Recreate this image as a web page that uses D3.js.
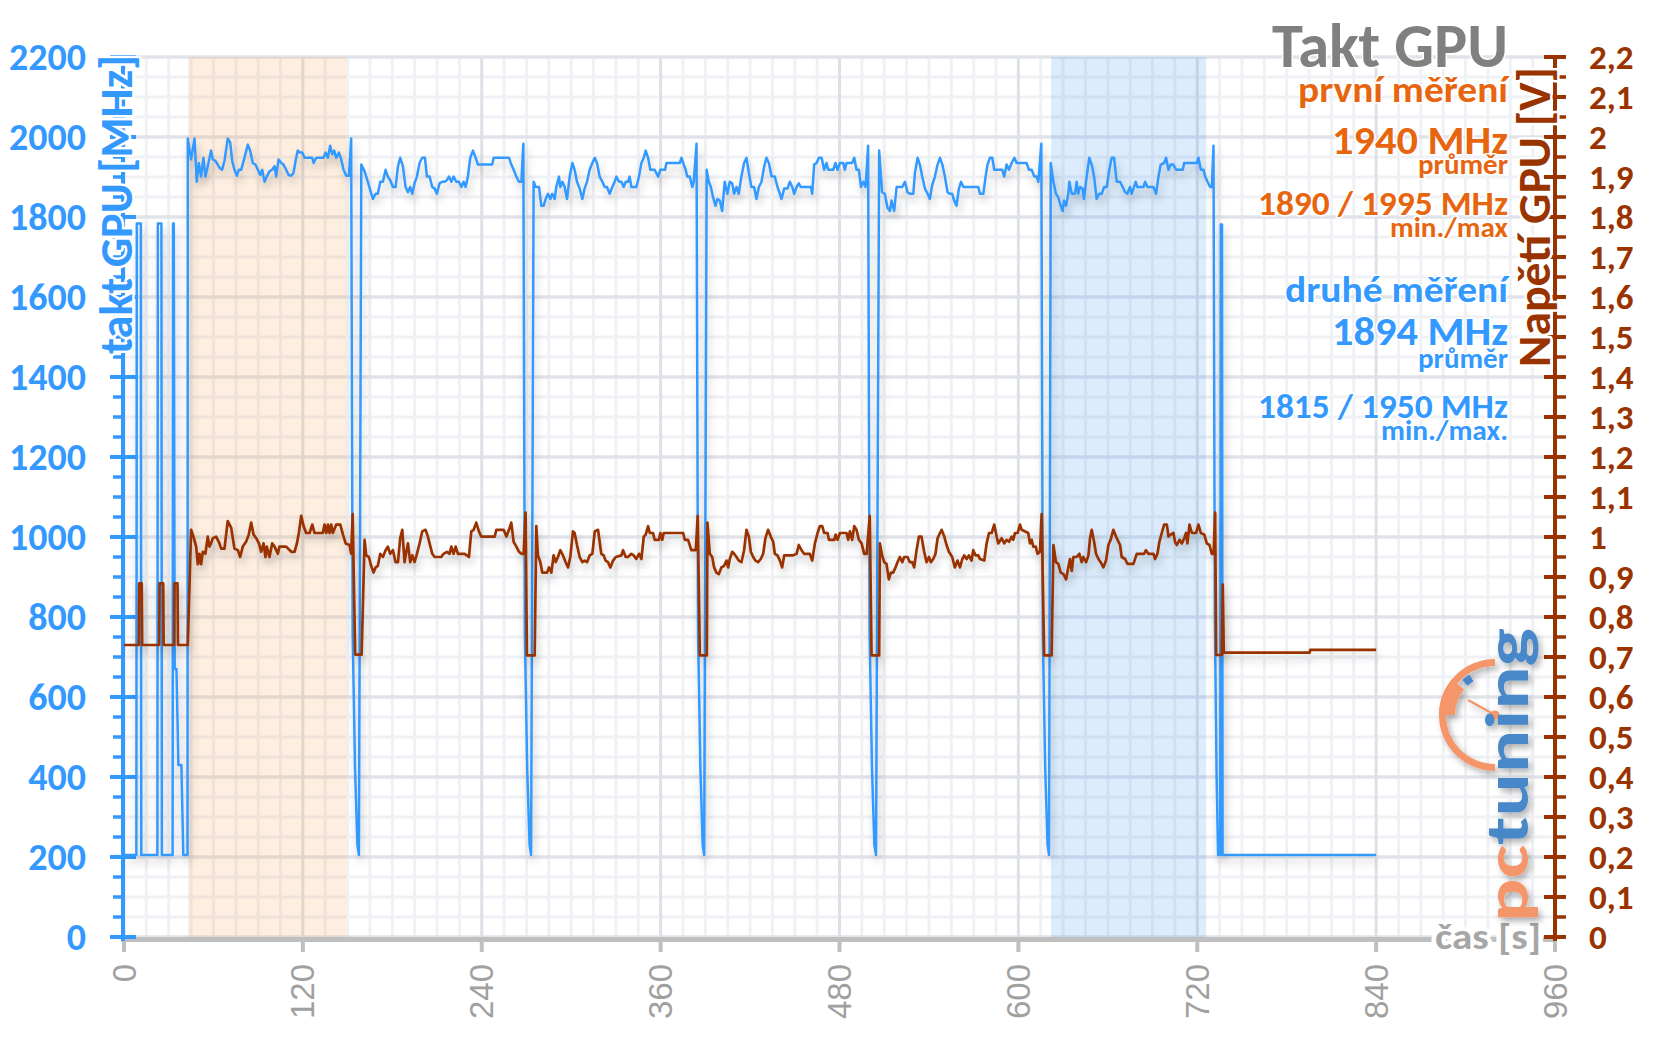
<!DOCTYPE html>
<html><head><meta charset="utf-8">
<script src="https://cdn.jsdelivr.net/npm/d3@7"></script>
<style>html,body{margin:0;padding:0;background:#fff}svg{display:block}</style>
</head><body>
<svg id="chart" width="1656" height="1044"></svg>
<script>
// ---------- DATA ----------
const xTickValues = [0,120,240,360,480,600,720,840,960];
const leftTickValues = [0,200,400,600,800,1000,1200,1400,1600,1800,2000,2200];
const rightTickValues = [0,0.1,0.2,0.3,0.4,0.5,0.6,0.7,0.8,0.9,1,1.1,1.2,1.3,1.4,1.5,1.6,1.7,1.8,1.9,2,2.1,2.2];
const rightTickLabels = ["0","0,1","0,2","0,3","0,4","0,5","0,6","0,7","0,8","0,9","1","1,1","1,2","1,3","1,4","1,5","1,6","1,7","1,8","1,9","2","2,1","2,2"];
const firstRunBand = [43,149];
const secondRunBand = [622,726];

// GPU clock [MHz]: [time s, value]
const clockIdle = [[0,205],[8.3,205],[8.6,1784],[11.3,1784],[11.6,205],[22.4,205],[22.7,1784],[25.1,1784],[25.4,205],[32.6,205],[32.9,1784],[33.4,1784],[34.0,670],[35.2,670],[36.5,430],[38.5,430],[39.8,205],[42.6,205]];
const clockRun1 = [[42.8,1996],[45.0,1944],[47.3,1996],[48.8,1888],[50.2,1935],[51.7,1901],[53.3,1948],[54.6,1901],[56.2,1927],[58.4,1966],[59.6,1944],[61.4,1940],[62.9,1931],[64.0,1923],[65.8,1918],[67.4,1940],[69.6,1996],[71.2,1987],[72.6,1940],[74.1,1918],[75.7,1903],[77.0,1918],[78.6,1918],[80.8,1948],[83.1,1981],[84.6,1966],[86.4,1935],[88.2,1931],[89.8,1918],[91.4,1905],[92.7,1918],[94.3,1888],[95.8,1901],[97.6,1914],[99.4,1918],[101.0,1927],[102.1,1901],[103.7,1944],[105.5,1935],[107.0,1931],[108.8,1918],[110.4,1905],[112.2,1903],[113.7,1910],[115.5,1948],[116.6,1966],[118.0,1961],[119.6,1961],[121.1,1948],[124.5,1948],[126.3,1948],[127.2,1935],[129.0,1948],[133.9,1948],[135.2,1961],[136.8,1948],[138.3,1978],[139.7,1957],[141.0,1966],[142.4,1948],[144.2,1961],[145.7,1944],[147.3,1918],[149.1,1903],[150.9,1903],[152.4,1996],[153.4,760],[155.0,420],[156.6,230],[157.6,205]];
const clockRun2 = [[159.2,1931],[161.4,1914],[163.6,1888],[165.2,1867],[167.0,1845],[168.8,1858],[170.3,1858],[171.9,1888],[173.7,1888],[175.5,1918],[177.0,1901],[178.6,1892],[180.4,1875],[182.2,1875],[183.8,1927],[185.3,1948],[187.1,1927],[188.9,1875],[190.5,1862],[192.0,1875],[193.4,1858],[194.9,1884],[196.5,1901],[198.3,1935],[200.1,1948],[201.9,1948],[203.2,1901],[205.0,1901],[206.8,1875],[208.4,1871],[209.9,1858],[211.7,1884],[213.5,1888],[215.1,1888],[216.6,1892],[218.0,1901],[219.6,1888],[221.1,1901],[222.9,1888],[224.7,1888],[226.3,1875],[227.8,1888],[229.2,1875],[230.7,1901],[232.3,1948],[234.1,1966],[235.9,1948],[237.5,1931],[247.0,1931],[248.0,1948],[258.3,1948],[259.8,1931],[261.4,1918],[263.2,1901],[265.0,1888],[266.6,1888],[267.9,1983],[268.9,760],[270.5,420],[272.1,230],[273.1,205]];
const clockRun3 = [[274.8,1888],[276.2,1875],[278.4,1875],[280.0,1828],[281.5,1828],[282.9,1845],[284.4,1858],[286.0,1845],[287.3,1858],[288.9,1845],[290.0,1875],[291.8,1901],[292.7,1875],[294.1,1888],[295.6,1875],[297.2,1845],[299.0,1901],[300.8,1935],[302.3,1918],[303.9,1888],[305.7,1871],[307.5,1845],[309.0,1871],[310.6,1888],[312.4,1918],[314.2,1935],[315.8,1948],[317.3,1935],[319.1,1901],[320.9,1888],[322.5,1875],[324.0,1875],[325.8,1858],[327.6,1875],[329.2,1888],[330.3,1901],[332.1,1888],[333.7,1888],[335.2,1875],[336.6,1888],[338.1,1888],[339.2,1901],[340.4,1875],[343.7,1875],[345.5,1901],[347.1,1935],[348.7,1948],[350.0,1966],[351.6,1948],[353.1,1918],[356.0,1918],[358.3,1901],[359.8,1918],[363.0,1918],[363.9,1935],[372.8,1935],[374.0,1948],[375.5,1931],[376.8,1918],[377.8,1901],[379.5,1901],[381.3,1875],[382.2,1888],[384.1,1983],[385.1,760],[386.7,420],[388.2,230],[389.2,205]];
const clockRun4 = [[390.9,1918],[392.3,1888],[393.7,1875],[395.2,1849],[396.8,1828],[398.1,1845],[399.7,1841],[401.3,1815],[403.0,1888],[404.8,1858],[406.4,1888],[408.0,1884],[409.3,1858],[410.9,1875],[412.4,1858],[414.2,1901],[416.0,1935],[417.6,1948],[419.2,1910],[420.9,1875],[422.7,1875],[424.3,1845],[425.9,1875],[427.7,1888],[429.5,1927],[431.0,1948],[432.6,1935],[434.4,1901],[436.6,1901],[438.4,1875],[440.0,1858],[441.1,1845],[442.9,1871],[445.1,1871],[446.7,1888],[448.3,1875],[449.6,1858],[451.2,1875],[452.7,1884],[454.0,1875],[460.8,1875],[461.7,1858],[463.0,1931],[464.6,1935],[466.2,1948],[468.0,1948],[469.7,1918],[471.3,1935],[472.4,1918],[475.8,1918],[477.3,1935],[478.7,1918],[480.3,1935],[482.5,1935],[483.6,1918],[484.7,1935],[488.5,1935],[489.9,1948],[491.4,1918],[493.0,1918],[494.4,1875],[496.0,1888],[497.5,1875],[499.2,1978],[500.2,760],[501.8,420],[503.4,230],[504.5,205]];
const clockRun5 = [[506.6,1966],[508.6,1862],[510.4,1858],[512.2,1823],[513.8,1815],[514.9,1841],[516.7,1815],[518.3,1875],[522.1,1875],[523.9,1888],[525.6,1862],[527.2,1858],[529.5,1858],[530.6,1910],[532.4,1948],[533.9,1931],[535.5,1901],[537.3,1871],[539.1,1858],[540.6,1845],[542.2,1880],[544.0,1901],[545.8,1931],[547.4,1948],[549.0,1931],[550.7,1901],[552.5,1862],[554.0,1858],[555.6,1858],[556.9,1841],[558.5,1828],[560.1,1871],[561.5,1888],[563.1,1875],[573.1,1875],[574.2,1858],[576.5,1858],[578.0,1901],[579.3,1931],[580.9,1948],[582.5,1948],[583.8,1918],[589.2,1918],[590.5,1901],[592.1,1931],[593.7,1918],[595.5,1935],[597.3,1948],[598.8,1935],[605.5,1935],[607.1,1918],[608.9,1918],[610.7,1901],[612.2,1901],[613.4,1888],[615.4,1983],[616.4,760],[618.0,420],[619.6,230],[620.6,205]];
const clockRun6 = [[621.7,1935],[623.5,1888],[625.2,1858],[626.8,1849],[628.4,1828],[629.7,1815],[630.6,1841],[632.0,1828],[633.5,1858],[634.2,1888],[635.8,1858],[638.0,1858],[639.1,1888],[640.2,1858],[641.4,1875],[643.1,1871],[644.0,1845],[645.8,1901],[647.6,1948],[649.2,1931],[650.8,1901],[652.5,1845],[654.3,1858],[655.9,1858],[657.5,1875],[659.3,1875],[661.0,1918],[662.6,1948],[664.2,1948],[666.0,1888],[668.2,1888],[670.0,1875],[671.6,1862],[673.1,1858],[674.9,1875],[676.0,1858],[677.2,1871],[678.7,1888],[679.8,1875],[683.9,1875],[685.0,1888],[686.6,1875],[690.6,1875],[692.4,1858],[694.0,1901],[695.5,1931],[697.8,1935],[699.1,1948],[700.7,1918],[702.2,1931],[704.0,1931],[705.8,1918],[710.3,1918],[711.2,1935],[719.7,1935],[720.8,1948],[722.4,1918],[724.2,1918],[725.3,1901],[726.9,1888],[728.6,1875],[729.8,1875],[730.9,1978]];
const clockTail = [[731.8,800],[733.0,400],[734.0,205],[735.4,205],[735.8,1781],[736.6,1781],[737.0,205],[840,205]];

// GPU voltage [V]: [time s, value]
const voltIdle = [[0,0.73],[9.9,0.73],[10.2,0.884],[11.9,0.884],[12.2,0.73],[23.6,0.73],[23.9,0.884],[26.3,0.884],[26.6,0.73],[33.6,0.73],[33.9,0.884],[35.9,0.884],[36.2,0.73],[42.8,0.73]];
const voltRun1 = [[45.0,1.018],[46.6,1.001],[48.4,0.976],[49.5,0.932],[50.6,0.958],[51.7,0.932],[52.9,0.963],[54.6,0.958],[56.2,1.001],[57.3,0.976],[58.4,0.984],[59.6,0.997],[61.8,1.001],[63.6,0.988],[65.2,0.971],[67.4,0.971],[69.6,1.040],[71.9,1.023],[74.1,0.971],[76.4,0.967],[77.9,0.950],[79.7,0.976],[81.9,0.988],[83.7,1.006],[85.3,1.036],[86.9,1.006],[88.7,0.997],[90.5,0.984],[92.0,0.963],[93.6,0.984],[94.9,0.950],[95.8,0.976],[97.6,0.950],[99.4,0.984],[101.0,0.976],[103.2,0.958],[104.3,0.976],[108.8,0.976],[112.2,0.963],[114.4,0.963],[116.0,0.984],[117.3,1.010],[118.9,1.053],[120.5,1.027],[122.2,1.010],[124.5,1.010],[126.3,1.031],[127.8,1.010],[133.4,1.010],[134.5,1.031],[135.7,1.010],[136.8,1.031],[137.9,1.010],[139.0,1.031],[140.1,1.010],[142.4,1.031],[145.1,1.031],[146.9,1.006],[148.7,0.984],[151.3,0.980],[152.4,0.958],[153.4,1.057],[155.1,0.706],[159.4,0.706]];
const voltRun2 = [[161.4,0.993],[162.5,0.954],[164.3,0.950],[165.8,0.928],[167.4,0.911],[168.8,0.924],[170.3,0.928],[171.9,0.958],[173.7,0.950],[175.5,0.967],[177.0,0.976],[178.6,0.958],[180.4,0.967],[182.2,0.937],[183.8,0.937],[185.3,0.997],[186.7,1.018],[188.2,0.937],[189.4,0.963],[190.5,0.984],[192.0,0.937],[193.4,0.954],[194.9,0.937],[196.5,0.958],[198.3,0.984],[200.1,1.014],[202.3,1.018],[203.9,1.001],[205.0,0.984],[206.8,0.958],[208.4,0.950],[212.8,0.950],[214.4,0.958],[216.6,0.963],[218.4,0.958],[219.6,0.976],[221.1,0.958],[222.5,0.976],[224.0,0.958],[228.5,0.958],[231.4,0.950],[233.0,1.014],[234.6,1.018],[236.3,1.036],[238.1,1.014],[239.7,1.001],[248.7,1.001],[249.8,1.018],[254.7,1.018],[256.5,1.001],[258.3,1.018],[259.8,1.036],[261.4,0.988],[263.2,0.976],[265.0,0.963],[266.6,0.958],[268.1,0.958],[269.4,1.061],[270.3,0.704],[275.5,0.704]];
const voltRun3 = [[276.6,1.027],[277.7,0.954],[279.3,0.937],[280.6,0.911],[283.8,0.911],[285.1,0.924],[286.7,0.911],[288.2,0.954],[289.6,0.937],[291.1,0.950],[292.7,0.967],[294.5,0.954],[296.3,0.937],[297.9,0.924],[299.4,0.950],[301.2,1.014],[302.3,1.010],[303.9,0.980],[305.7,0.950],[307.5,0.937],[309.0,0.941],[310.6,0.937],[312.4,0.954],[314.2,0.958],[315.8,1.014],[318.0,1.018],[320.2,0.958],[321.8,0.954],[323.1,0.941],[324.7,0.937],[326.3,0.924],[328.1,0.941],[329.9,0.950],[333.7,0.954],[334.8,0.967],[336.6,0.950],[338.1,0.950],[340.4,0.958],[341.9,0.954],[343.7,0.945],[345.5,0.958],[347.1,0.945],[348.7,1.001],[350.0,1.006],[351.6,1.027],[352.7,1.010],[354.9,1.010],[356.0,0.993],[358.9,0.993],[359.8,1.010],[361.1,0.993],[362.1,1.010],[375.1,1.010],[376.2,0.993],[378.4,0.993],[380.6,0.967],[383.6,0.967],[384.9,1.053],[386.3,0.704],[391.0,0.704]];
const voltRun4 = [[391.4,1.036],[393.0,0.958],[394.6,0.950],[395.9,0.924],[397.4,0.911],[399.0,0.907],[400.8,0.924],[402.6,0.928],[404.2,0.941],[405.3,0.924],[406.4,0.945],[408.0,0.963],[409.3,0.958],[410.9,0.950],[412.4,0.941],[414.2,0.937],[416.0,0.967],[417.6,1.018],[419.2,1.001],[420.5,0.963],[422.1,0.950],[423.6,0.941],[425.4,0.937],[427.2,0.945],[428.8,0.958],[430.3,0.997],[432.1,1.018],[433.9,1.001],[435.5,0.988],[436.6,0.958],[438.4,0.954],[440.0,0.941],[441.5,0.924],[442.9,0.954],[448.9,0.954],[451.2,0.958],[452.7,0.980],[454.5,0.967],[456.3,0.958],[460.1,0.958],[461.7,0.941],[463.5,0.984],[465.3,1.010],[466.8,1.027],[468.4,1.027],[469.7,1.010],[472.0,1.010],[472.9,0.993],[476.5,0.993],[477.4,1.006],[478.7,0.993],[480.3,1.010],[484.7,1.010],[485.8,0.993],[487.0,1.014],[488.5,0.993],[489.9,1.027],[491.4,1.018],[493.0,0.993],[494.8,0.984],[496.6,0.958],[498.2,0.958],[500.3,1.053],[501.5,0.704],[506.6,0.704]];
const voltRun5 = [[507.1,0.984],[508.6,0.954],[510.0,0.937],[511.5,0.933],[513.1,0.894],[514.5,0.911],[516.0,0.911],[517.6,0.924],[518.9,0.937],[520.5,0.950],[522.1,0.937],[523.4,0.950],[525.6,0.950],[527.2,0.937],[528.8,0.937],[530.1,0.924],[531.7,0.967],[533.3,1.001],[535.0,1.001],[536.8,0.963],[538.4,0.937],[540.0,0.950],[541.3,0.937],[542.9,0.945],[544.4,0.958],[545.8,0.997],[547.4,1.010],[548.5,1.018],[550.3,1.001],[551.8,0.980],[553.4,0.963],[555.6,0.950],[557.4,0.924],[559.2,0.941],[560.8,0.924],[562.4,0.945],[563.7,0.954],[565.3,0.945],[566.8,0.954],[568.6,0.941],[569.7,0.967],[571.3,0.954],[573.1,0.954],[574.2,0.945],[577.1,0.941],[578.7,0.984],[580.3,1.010],[582.1,1.010],[583.8,1.031],[585.4,1.001],[586.5,0.984],[588.8,0.997],[590.5,0.984],[592.1,0.993],[593.7,0.988],[595.5,1.001],[596.6,0.993],[597.7,1.010],[599.5,1.010],[601.1,1.031],[602.2,1.018],[606.6,1.010],[607.8,0.984],[608.9,0.993],[610.0,0.976],[611.6,0.976],[612.9,0.958],[614.5,0.963],[615.6,1.057],[617.3,0.704],[622.3,0.704]];
const voltRun6 = [[623.5,0.980],[625.2,0.937],[626.8,0.933],[628.4,0.911],[630.2,0.907],[632.0,0.894],[633.5,0.924],[634.6,0.945],[635.8,0.915],[636.9,0.950],[639.1,0.950],[640.9,0.958],[642.5,0.937],[643.6,0.950],[645.4,0.937],[647.0,0.954],[648.1,0.997],[649.2,1.018],[650.8,0.988],[652.1,0.958],[653.7,0.945],[655.2,0.937],[657.0,0.924],[658.8,0.941],[660.4,0.980],[661.9,0.993],[663.7,1.018],[665.5,1.001],[668.2,0.980],[669.3,0.950],[671.6,0.945],[673.1,0.933],[677.2,0.933],[679.4,0.958],[684.3,0.958],[685.6,0.967],[687.2,0.958],[690.6,0.958],[691.7,0.945],[693.3,0.958],[694.6,0.988],[696.2,1.010],[697.8,1.031],[699.6,1.031],[700.7,1.001],[702.2,1.006],[704.0,1.010],[705.1,0.988],[706.3,0.980],[708.1,0.993],[709.7,0.984],[711.2,0.997],[712.5,1.010],[713.4,0.984],[714.8,1.031],[716.4,1.010],[719.2,1.010],[720.8,1.031],[722.4,1.010],[724.7,1.006],[726.4,0.984],[728.2,0.980],[729.8,0.958],[731.0,0.958],[732.0,1.061],[732.7,0.705],[736.5,0.705]];
const voltTail = [[737.1,0.881],[737.8,0.711],[795.4,0.711],[795.8,0.718],[840,0.718]];

const clockSeries = [].concat(clockIdle, clockRun1, clockRun2, clockRun3, clockRun4, clockRun5, clockRun6, clockTail);
const voltSeries = [].concat(voltIdle, voltRun1, voltRun2, voltRun3, voltRun4, voltRun5, voltRun6, voltTail);

// ---------- CHART ----------
const FONT = "Carlito, 'Open Sans', sans-serif";
const BLUE = "#3399ff", BROWN = "#993300", ORANGE = "#e8650f", GREY = "#808080";
const svg = d3.select("#chart");
const x = d3.scaleLinear().domain([0, 960]).range([124, 1555]);
const yL = d3.scaleLinear().domain([0, 2200]).range([937, 57]);
const yR = d3.scaleLinear().domain([0, 2.2]).range([937, 57]);

const defs = svg.append("defs");
const f = defs.append("filter").attr("id", "sh").attr("x", "-5%").attr("y", "-10%").attr("width", "110%").attr("height", "130%");
f.append("feDropShadow").attr("dx", 2).attr("dy", 6).attr("stdDeviation", 4).attr("flood-color", "#000").attr("flood-opacity", 0.22);
const f2 = defs.append("filter").attr("id", "sh2").attr("x", "-20%").attr("y", "-20%").attr("width", "150%").attr("height", "150%");
f2.append("feDropShadow").attr("dx", 3).attr("dy", 4).attr("stdDeviation", 3).attr("flood-color", "#000").attr("flood-opacity", 0.3);

svg.append("rect").attr("width", 1656).attr("height", 1044).attr("fill", "#fff");

// grid
const g = svg.append("g");
const [x0, x1] = x.range();
d3.range(0, 2201, 50).filter(v => v % 200 !== 0).forEach(v => {
  g.append("line").attr("x1", x0).attr("x2", x1).attr("y1", yL(v)).attr("y2", yL(v)).attr("stroke", "#eff1f5").attr("stroke-width", 3);
});
d3.range(0, 961, 15).filter(v => v % 120 !== 0).forEach(v => {
  g.append("line").attr("x1", x(v)).attr("x2", x(v)).attr("y1", yL(2200)).attr("y2", yL(0)).attr("stroke", "#eff1f5").attr("stroke-width", 3);
});
leftTickValues.forEach(v => {
  g.append("line").attr("x1", x0).attr("x2", x1).attr("y1", yL(v)).attr("y2", yL(v)).attr("stroke", "#e0e3e9").attr("stroke-width", 3.5);
});
xTickValues.forEach(v => {
  g.append("line").attr("x1", x(v)).attr("x2", x(v)).attr("y1", yL(2200)).attr("y2", yL(0)).attr("stroke", "#dde1e7").attr("stroke-width", 3);
});

// bands
svg.append("rect").attr("x", x(firstRunBand[0])).attr("width", x(firstRunBand[1]) - x(firstRunBand[0]))
  .attr("y", yL(2200)).attr("height", yL(0) - yL(2200) + 4).attr("fill", "rgb(245,170,100)").attr("fill-opacity", 0.2);
svg.append("rect").attr("x", x(secondRunBand[0])).attr("width", x(secondRunBand[1]) - x(secondRunBand[0]))
  .attr("y", yL(2200)).attr("height", yL(0) - yL(2200) + 4).attr("fill", "rgb(80,160,240)").attr("fill-opacity", 0.2);

// bottom axis
svg.append("line").attr("x1", 121).attr("x2", 1557).attr("y1", 939.5).attr("y2", 939.5).attr("stroke", "#bfbfbf").attr("stroke-width", 5);
xTickValues.forEach(v => {
  svg.append("line").attr("x1", x(v)).attr("x2", x(v)).attr("y1", 940).attr("y2", 952).attr("stroke", "#bfbfbf").attr("stroke-width", 4);
  svg.append("text").attr("transform", `translate(${x(v)},964) rotate(-90)`).attr("text-anchor", "end").attr("dy", "0.35em")
    .attr("font-family", "'Liberation Sans', Arial, sans-serif").attr("font-size", 33).attr("fill", "#a0a0a0").text(v);
});

// left axis
svg.append("line").attr("x1", 123).attr("x2", 123).attr("y1", 55).attr("y2", 941).attr("stroke", BLUE).attr("stroke-width", 4);
d3.range(0, 2201, 50).forEach(v => {
  const major = v % 200 === 0;
  svg.append("line").attr("x1", major ? 110 : 113).attr("x2", major ? 136 : 123).attr("y1", yL(v)).attr("y2", yL(v))
    .attr("stroke", BLUE).attr("stroke-width", major ? 4 : 3.5);
});
leftTickValues.forEach(v => {
  svg.append("text").attr("x", 86).attr("y", yL(v)).attr("dy", "0.34em").attr("text-anchor", "end")
    .attr("font-family", FONT).attr("font-weight", 700).attr("font-size", 38).attr("fill", BLUE).text(v);
});

// right axis
svg.append("line").attr("x1", 1555).attr("x2", 1555).attr("y1", 55).attr("y2", 941).attr("stroke", BROWN).attr("stroke-width", 4);
d3.range(0, 45).forEach(i => {
  const v = i * 0.05, major = i % 2 === 0;
  svg.append("line").attr("x1", major ? 1544 : 1555).attr("x2", 1566).attr("y1", yR(v)).attr("y2", yR(v))
    .attr("stroke", BROWN).attr("stroke-width", major ? 4 : 3.5);
});
rightTickValues.forEach((v, i) => {
  svg.append("text").attr("x", 1589).attr("y", yR(v)).attr("dy", "0.34em")
    .attr("font-family", FONT).attr("font-weight", 700).attr("font-size", 35).attr("fill", BROWN).text(rightTickLabels[i]);
});

// series
const lineClock = d3.line().x(d => x(d[0])).y(d => yL(d[1]));
const lineVolt = d3.line().x(d => x(d[0])).y(d => yR(d[1]));
svg.append("path").datum(clockSeries).attr("d", lineClock).attr("fill", "none").attr("stroke", BLUE)
  .attr("stroke-width", 2.5).attr("stroke-linejoin", "round").attr("filter", "url(#sh)");
svg.append("path").datum(voltSeries).attr("d", lineVolt).attr("fill", "none").attr("stroke", BROWN)
  .attr("stroke-width", 2.7).attr("stroke-linejoin", "round").attr("filter", "url(#sh)");

// axis titles
function halo(sel, w) { return sel.attr("stroke", "#fff").attr("stroke-width", w).attr("paint-order", "stroke").attr("stroke-linejoin", "round"); }
halo(svg.append("text").attr("transform", "translate(132,55) rotate(-90)").attr("text-anchor", "end")
  .attr("font-family", FONT).attr("font-weight", 700).attr("font-size", 46).attr("fill", BLUE)
  .attr("textLength", 299).attr("lengthAdjust", "spacingAndGlyphs").text("takt GPU [MHz]"), 5);
halo(svg.append("text").attr("transform", "translate(1550,67) rotate(-90)").attr("text-anchor", "end")
  .attr("font-family", FONT).attr("font-weight", 700).attr("font-size", 47).attr("fill", BROWN)
  .attr("textLength", 300).attr("lengthAdjust", "spacingAndGlyphs").text("Napětí GPU [V]"), 5);
halo(svg.append("text").attr("x", 1541).attr("y", 949).attr("text-anchor", "end")
  .attr("font-family", FONT).attr("font-weight", 700).attr("font-size", 36).attr("fill", "#a6a6a6")
  .attr("textLength", 106).attr("lengthAdjust", "spacingAndGlyphs").text("čas [s]"), 8);

// info block
const info = [
  ["Takt GPU", GREY, 63, 67, 236],
  ["první měření", ORANGE, 37, 102, 210],
  ["1940 MHz", ORANGE, 41, 154, 176],
  ["průměr", ORANGE, 28, 174, 90],
  ["1890 / 1995 MHz", ORANGE, 34, 215, 250],
  ["min./max", ORANGE, 28, 237, 118],
  ["druhé měření", BLUE, 37, 302, 223],
  ["1894 MHz", BLUE, 41, 345, 176],
  ["průměr", BLUE, 28, 368, 90],
  ["1815 / 1950 MHz", BLUE, 34, 418, 250],
  ["min./max.", BLUE, 28, 440, 127]
];
info.forEach(([t, c, s, yy, len]) => {
  halo(svg.append("text").attr("x", 1508).attr("y", yy).attr("text-anchor", "end")
    .attr("font-family", FONT).attr("font-weight", 700).attr("font-size", s).attr("fill", c)
    .attr("textLength", len).attr("lengthAdjust", "spacingAndGlyphs").text(t), 3);
});

// logo
const logo = svg.append("g").attr("filter", "url(#sh2)");
const lc = logo.append("g").attr("transform", "translate(1495,715)");
lc.append("path").attr("d", d3.arc()({innerRadius: 49, outerRadius: 56, startAngle: Math.PI, endAngle: 2 * Math.PI})).attr("fill", "#f4956a");
lc.append("path").attr("d", d3.arc()({innerRadius: 40, outerRadius: 56, startAngle: 1.5 * Math.PI, endAngle: 1.72 * Math.PI})).attr("fill", "#f4956a");
lc.append("path").attr("d", d3.arc()({innerRadius: 40, outerRadius: 48, startAngle: 1.76 * Math.PI, endAngle: 1.82 * Math.PI})).attr("fill", "#4a88c8");
lc.append("line").attr("x1", 0).attr("y1", 0).attr("x2", -27).attr("y2", -15).attr("stroke", "#f4956a").attr("stroke-width", 2.5);
lc.append("circle").attr("r", 4.5).attr("fill", "#f4956a");
const lt = logo.append("text").attr("transform", "translate(1528,922) rotate(-90)")
  .attr("font-family", FONT).attr("font-weight", 700).attr("font-size", 60)
  .attr("textLength", 294).attr("lengthAdjust", "spacingAndGlyphs");
lt.append("tspan").attr("fill", "#f4956a").text("pc");
lt.append("tspan").attr("fill", "#4a88c8").text("tuning");
</script>
</body></html>
